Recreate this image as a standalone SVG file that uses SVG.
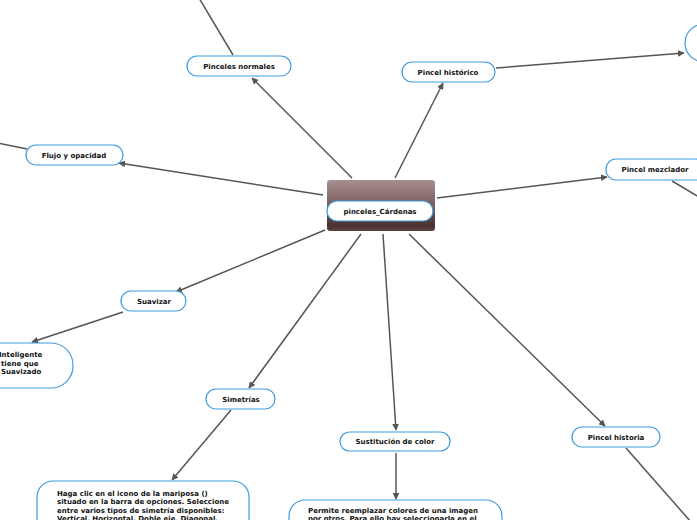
<svg xmlns="http://www.w3.org/2000/svg" width="697" height="520" viewBox="0 0 697 520">
<style>
.n{fill:#fff;stroke:#3d9be0;stroke-width:1.2}
.t{font-family:"DejaVu Sans",Verdana,sans-serif;font-weight:bold;font-size:7px;fill:#111;text-anchor:middle}
.b{font-family:"DejaVu Sans",Verdana,sans-serif;font-weight:bold;font-size:7px;fill:#111}
.c{stroke:#555;stroke-width:1.5;fill:none}
</style>
<defs>
<linearGradient id="g" x1="0" y1="0" x2="0" y2="1">
<stop offset="0" stop-color="#a88f8f"/>
<stop offset="0.5" stop-color="#7a5c5c"/>
<stop offset="0.9" stop-color="#4a3232"/>
<stop offset="1" stop-color="#5e4444"/>
</linearGradient>
<marker id="a" viewBox="0 0 10 10" refX="9" refY="5" markerWidth="4.5" markerHeight="4.5" orient="auto" markerUnits="strokeWidth">
<path d="M0,0 L10,5 L0,10 z" fill="#555"/>
</marker>
</defs>
<rect width="697" height="520" fill="#fff"/>
<g id="connectors">
<line class="c" x1="352" y1="178" x2="252" y2="78" marker-end="url(#a)"/>
<line class="c" x1="233" y1="55" x2="199" y2="-2"/>
<line class="c" x1="395" y1="178" x2="443" y2="83" marker-end="url(#a)"/>
<line class="c" x1="496" y1="68" x2="684" y2="53" marker-end="url(#a)"/>
<line class="c" x1="323" y1="195" x2="119" y2="163" marker-end="url(#a)"/>
<line class="c" x1="27" y1="149" x2="-2" y2="143"/>
<line class="c" x1="437" y1="198" x2="607" y2="177" marker-end="url(#a)"/>
<line class="c" x1="672" y1="181" x2="699" y2="197"/>
<line class="c" x1="325" y1="230" x2="176" y2="292" marker-end="url(#a)"/>
<line class="c" x1="123" y1="312" x2="32" y2="342" marker-end="url(#a)"/>
<line class="c" x1="361" y1="234" x2="249" y2="388" marker-end="url(#a)"/>
<line class="c" x1="231" y1="410" x2="172" y2="480" marker-end="url(#a)"/>
<line class="c" x1="383" y1="234" x2="396" y2="430" marker-end="url(#a)"/>
<line class="c" x1="396" y1="453" x2="396" y2="499" marker-end="url(#a)"/>
<line class="c" x1="409" y1="234" x2="605" y2="426" marker-end="url(#a)"/>
<line class="c" x1="626" y1="448" x2="691" y2="522"/>
</g>
<g id="center">
<rect x="327" y="180" width="108" height="51" rx="3" fill="url(#g)"/>
<rect class="n" x="327" y="201" width="106" height="20" rx="10" stroke-width="1.5"/>
<text class="t" x="380" y="214" font-size="7.5">pinceles_Cárdenas</text>
</g>
<g id="pinceles-normales">
<rect class="n" x="187" y="56" width="104" height="20" rx="10"/>
<text class="t" x="239" y="69">Pinceles normales</text>
</g>
<g id="pincel-historico">
<rect class="n" x="402" y="62" width="93" height="20" rx="10"/>
<text class="t" x="448" y="75">Pincel histórico</text>
</g>
<g id="right-top">
<rect class="n" x="685" y="24" width="100" height="38" rx="19"/>
</g>
<g id="flujo">
<rect class="n" x="26" y="145" width="97" height="20" rx="10"/>
<text class="t" x="74" y="158">Flujo y opacidad</text>
</g>
<g id="mezclador">
<rect class="n" x="606" y="159" width="100" height="21" rx="10"/>
<text class="t" x="655" y="172">Pincel mezclador</text>
</g>
<g id="suavizar">
<rect class="n" x="121" y="291" width="65" height="20" rx="10"/>
<text class="t" x="154" y="304">Suavizar</text>
</g>
<g id="suavizar-info">
<rect class="n" x="-100" y="343" width="173" height="45" rx="22"/>
<text class="b" x="-1" y="357">Inteligente</text>
<text class="b" x="1" y="365.5">tiene que</text>
<text class="b" x="1" y="374">Suavizado</text>
</g>
<g id="simetrias">
<rect class="n" x="206" y="389" width="69" height="20" rx="10"/>
<text class="t" x="241" y="402">Simetrías</text>
</g>
<g id="simetrias-info">
<rect class="n" x="37" y="481" width="212" height="60" rx="16"/>
<text class="b" x="57" y="495.5">Haga clic en el icono de la mariposa ()</text>
<text class="b" x="57" y="504">situado en la barra de opciones. Seleccione</text>
<text class="b" x="57" y="512.5">entre varios tipos de simetría disponibles:</text>
<text class="b" x="57" y="521">Vertical, Horizontal, Doble eje, Diagonal,</text>
</g>
<g id="sustitucion">
<rect class="n" x="340" y="432" width="110" height="19" rx="9.5"/>
<text class="t" x="395" y="444">Sustitución de color</text>
</g>
<g id="sustitucion-info">
<rect class="n" x="289" y="500" width="213" height="50" rx="16"/>
<text class="b" x="308" y="512.5">Permite reemplazar colores de una imagen</text>
<text class="b" x="308" y="521">por otros. Para ello hay seleccionarla en el</text>
</g>
<g id="pincel-historia">
<rect class="n" x="572" y="427" width="88" height="20" rx="10"/>
<text class="t" x="616" y="440">Pincel historia</text>
</g>
</svg>
